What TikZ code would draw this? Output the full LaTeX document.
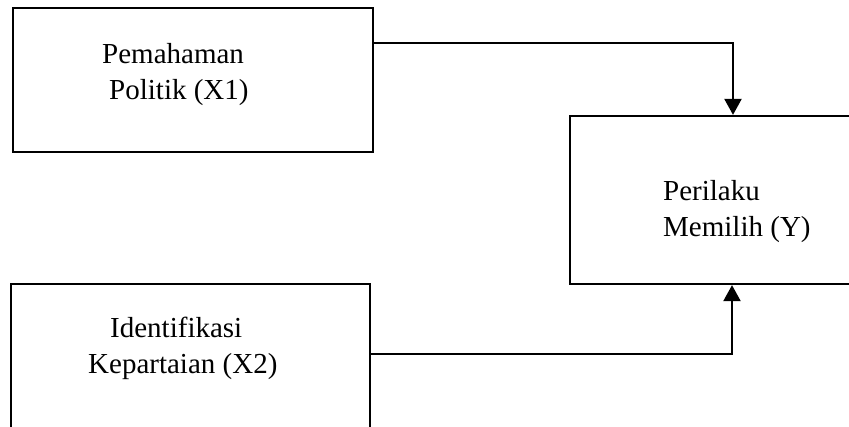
\documentclass[tikz,border=0pt]{standalone}
\usepackage{fontspec}
\setmainfont{Liberation Serif}
\usetikzlibrary{arrows.meta}
\begin{document}
\begin{tikzpicture}[x=1pt,y=-1pt,
  box/.style={draw=black,line width=2.3pt,rectangle,inner sep=0pt},
  lbl/.style={anchor=base west,inner sep=0pt,font=\fontsize{29}{36}\selectfont},
  arr/.style={draw=black,line width=2.3pt,-{Triangle[width=17pt,length=16pt]}}]
\useasboundingbox (0,0) rectangle (849,426);
\clip (0,0) rectangle (849,426);
\node[box,minimum width=360pt,minimum height=144pt] (b1) at (193,80) {};
\node[box,minimum width=300pt,minimum height=168pt] (by) at (720,200) {};
\node[box,minimum width=359pt,minimum height=166pt] (b2) at (190.5,367) {};
\node[lbl] (t1a) at (102,63) {Pemahaman};
\node[lbl] (t1b) at (109,99) {Politik (X1)};
\node[lbl] (tya) at (663,200) {Perilaku};
\node[lbl] (tyb) at (663,236) {Memilih (Y)};
\node[lbl] (t2a) at (110,337) {Identifikasi};
\node[lbl] (t2b) at (88,373) {Kepartaian (X2)};
\coordinate (k1) at (733,43);
\coordinate (k2) at (732,354);
\draw[arr] (b1.east |- k1) -| (by.north -| k1);
\draw[arr] (b2.east |- k2) -| (by.south -| k2);
\end{tikzpicture}
\end{document}
